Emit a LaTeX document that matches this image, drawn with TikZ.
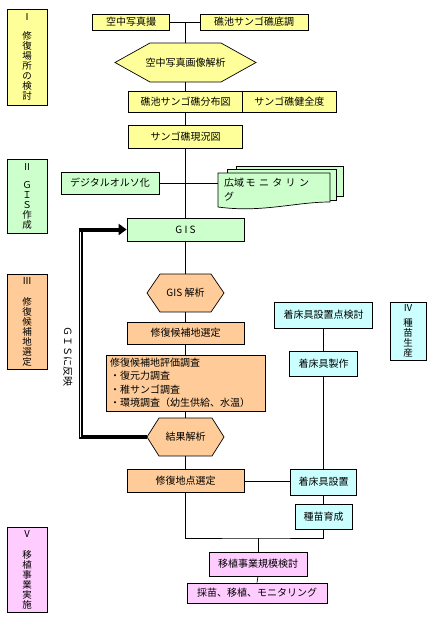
\documentclass[tikz,border=0pt]{standalone}
\usepackage{fontspec}
\setmainfont{Noto Sans CJK JP}
\usetikzlibrary{arrows.meta,calc}
\usepackage{xcolor}

\definecolor{yelfill}{HTML}{FFFF99}
\definecolor{grnfill}{HTML}{CCFFCC}
\definecolor{orgfill}{HTML}{FFCC99}
\definecolor{cyanfill}{HTML}{CCFFFF}
\definecolor{pinkfill}{HTML}{FFCCFF}

\begin{document}
\begin{tikzpicture}[x=1pt,y=-1pt,
  box/.style={draw, line width=0.7pt, inner sep=1pt, font=\fontsize{10}{12}\selectfont},
  stagebox/.style={draw, line width=0.7pt, inner sep=1pt, align=center, minimum width=40pt,
    font=\fontsize{9.5}{10}\selectfont},
  hexlabel/.style={inner sep=0pt, font=\fontsize{10}{12}\selectfont},
  hexline/.style={draw, line width=0.7pt},
  link/.style={line width=0.7pt},
  fbline/.style={line width=4pt},
  fbdouble/.style={double, line width=1.2pt, double distance=1.6pt}]

\useasboundingbox (0,0) rectangle (433,621);

% Stage boxes on the left and right
\node[stagebox, fill=yelfill, minimum height=96pt] (stI) at (27,57)
  {Ⅰ\\[9pt]修\\復\\場\\所\\の\\検\\討};
\node[stagebox, fill=grnfill, minimum height=74pt] (stII) at (27,196)
  {Ⅱ\\[8pt]Ｇ\\Ｉ\\Ｓ\\作\\成};
\node[stagebox, fill=orgfill, minimum height=95pt] (stIII) at (27,321.5)
  {Ⅲ\\[11pt]修\\復\\候\\補\\地\\選\\定};
\node[stagebox, fill=cyanfill, minimum width=36pt, minimum height=58pt] (stIV) at (408,331)
  {Ⅳ\\[5pt]種\\苗\\生\\産};
\node[stagebox, fill=pinkfill, minimum height=85pt] (stV) at (27,569.5)
  {Ⅴ\\[11pt]移\\植\\事\\業\\実\\施};

% I: restoration site
\node[box, fill=yelfill, minimum width=77pt, minimum height=16pt] (aerial) at (131,22) {空中写真撮};
\node[box, fill=yelfill, minimum width=108pt, minimum height=16pt] (survey) at (254,22) {礁池サンゴ礁底調};

\draw[hexline, fill=yelfill] (115,62.5) -- (150,43) -- (221,43) -- (256,62.5) -- (221,82) -- (150,82) -- cycle;
\node[hexlabel, minimum width=141pt, minimum height=39pt] (imgana) at (185.5,62.5) {空中写真画像解析};

\node[box, fill=yelfill, minimum width=114pt, minimum height=21pt] (distmap) at (185.5,101.5) {礁池サンゴ礁分布図};
\node[box, fill=yelfill, minimum width=93.5pt, minimum height=21pt] (health) at (289.25,101.5) {サンゴ礁健全度};
\node[box, fill=yelfill, minimum width=114pt, minimum height=23pt] (current) at (185.5,136.5) {サンゴ礁現況図};

% II: GIS
\node[box, fill=grnfill, minimum width=98pt, minimum height=22pt] (ortho) at (110,183) {デジタルオルソ化};

\draw[hexline, fill=grnfill] (236,166) rectangle (343,196);
\draw[hexline, fill=grnfill] (227,169.5) rectangle (336,200);
\draw[hexline, fill=grnfill] (218,173) -- (330,173) -- (330,202)
  .. controls (295,202) and (262,213) .. (218,207) -- cycle;
\node[hexlabel, minimum width=112pt, minimum height=30pt, text width=100pt, align=left,
  font=\fontsize{10}{14}\selectfont] (wide) at (274,190)
  {広域\,モ\,\,ニ\,\,タ\,\,リ\,\,ン\\グ};

\node[box, fill=grnfill, minimum width=117pt, minimum height=23pt] (gis) at (185.5,229.5) {G I S};

% III: candidate sites
\draw[hexline, fill=orgfill] (147,293) -- (160,274) -- (211,274) -- (224,293) -- (211,312) -- (160,312) -- cycle;
\node[hexlabel, minimum width=77pt, minimum height=38pt] (gisana) at (185.5,293) {GIS 解析};

\node[box, fill=orgfill, minimum width=117pt, minimum height=22pt] (candsel) at (185.5,333) {修復候補地選定};
\node[box, fill=orgfill, minimum width=159pt, minimum height=56pt, text width=151pt, inner xsep=4pt,
  align=left, font=\fontsize{10}{13.5}\selectfont] (evalsurv) at (185.5,383)
  {修復候補地評価調査\\・復元力調査\\・稚サンゴ調査\\・環境調査（幼生供給、水温）};

\draw[hexline, fill=orgfill] (147,437) -- (159,418) -- (212,418) -- (224,437) -- (212,456) -- (159,456) -- cycle;
\node[hexlabel, minimum width=77pt, minimum height=38pt] (result) at (185.5,437) {結果解析};

\node[box, fill=orgfill, minimum width=117pt, minimum height=23pt] (sitesel) at (185.5,481) {修復地点選定};

% IV: seedling production
\node[box, fill=cyanfill, minimum width=98pt, minimum height=26pt] (plan) at (323.5,315) {着床具設置点検討};
\node[box, fill=cyanfill, minimum width=68pt, minimum height=25pt] (make) at (323.5,363.5) {着床具製作};
\node[box, fill=cyanfill, minimum width=66pt, minimum height=26pt] (install) at (323.5,482) {着床具設置};
\node[box, fill=cyanfill, minimum width=57pt, minimum height=25pt] (seed) at (323.5,516.5) {種苗育成};

% V: transplantation
\node[box, fill=pinkfill, minimum width=98pt, minimum height=24pt] (scale) at (258,564) {移植事業規模検討};
\node[box, fill=pinkfill, minimum width=140pt, minimum height=20pt] (final) at (257,593) {採苗、移植、モニタリング};

% Connectors
\coordinate (j1) at (185.5,22);
\coordinate (j2) at (258,538);
\draw[link] (aerial.east) -- (survey.west);
\draw[link] (j1) -- (imgana.north);
\draw[link] (imgana.south) -- (distmap.north);
\draw[link] (distmap.south) -- (current.north);
\draw[link] (current.south) -- (gis.north);
\draw[link] (ortho.east) -- (ortho.east -| wide.west);
\draw[link] (gis.south) -- (gisana.north);
\draw[link] (gisana.south) -- (candsel.north);
\draw[link] (candsel.south) -- (evalsurv.north);
\draw[link] (evalsurv.south) -- (result.north);
\draw[link] (result.south) -- (sitesel.north);
\draw[link] (sitesel.east) -- (sitesel.east -| install.west);
\draw[link] (plan.south) -- (make.north);
\draw[link] (make.south) -- (install.north);
\draw[link] (install.south) -- (seed.north);
\draw[link] (sitesel.south) |- (j2) -| (seed.south);
\draw[link] (j2) -- (scale.north);
\draw[link] (scale.south) -- (final.north);

% Feedback to GIS
\coordinate (fbbot) at (80.5,437);
\coordinate (fbtop) at (80.5,229.5);
\draw[fbline] (result.west) -- ($(fbbot)+(-2,0)$);
\draw[fbdouble] (fbbot) -- (fbtop);
\draw[fbline, -{Triangle[length=8pt,width=11pt]}] ($(fbtop)+(-2,0)$) -- (gis.west);
\node[rotate=-90, font=\fontsize{10}{12}\selectfont] (fblabel) at (68,356) {ＧＩＳに反映};

\end{tikzpicture}
\end{document}
